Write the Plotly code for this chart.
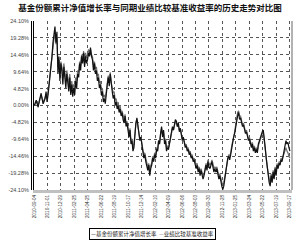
import plotly.graph_objects as go
import pandas as pd

title_text = "基金份额累计净值增长率与同期业绩比较基准收益率的历史走势对比图"
fund_name = "基金份额累计净值增长率"
bench_name = "业绩比较基准收益率"
start_date = "2010-09-04"
end_date = "2013-09-17"

fund = [
    0.0, 0.8, 1.5, 0.5, -0.5, 1.2, 2.5, 3.5, 1.8, 0.5,
    1.2, 2.0, 4.0, 1.0, 3.0, 5.5, 8.0, 11.0, 14.0, 18.0,
    20.0, 22.5, 18.0, 21.0, 9.0, 14.0, 7.0, 12.0, 10.0, 6.0,
    11.0, 8.0, 5.0, 9.0, 7.0, 4.0, 8.0, 3.0, 6.0, 2.5,
    5.0, 3.0, 7.0, 5.0, 9.0, 8.0, 12.0, 10.0, 14.0, 12.0,
    15.0, 11.0, 14.0, 12.0, 13.0, 15.0, 14.0, 16.5, 14.0, 13.0,
    10.0, 12.0, 9.0, 10.0, 7.0, 8.0, 5.0, 6.0, 3.0, 4.0,
    1.0, 2.0, 0.5, 4.0, 6.0, 8.0, 5.5, 9.0, 5.0, 4.0,
    2.0, 3.0, 0.0, 1.0, -1.0, 0.0, -2.0, -1.0, -3.0, -2.0,
    -4.0, -5.0, -3.0, -6.0, -5.0, -8.0, -9.0, -7.0, -11.0, -10.0,
    -13.0, -12.0, -8.0, -5.0, -3.5, -6.0, -8.0, -10.0, -9.0, -12.0,
    -13.0, -15.0, -14.0, -16.0, -17.0, -18.5, -17.0, -20.0, -18.0, -17.0,
    -15.0, -16.0, -14.0, -15.0, -12.5, -13.0, -10.0, -11.0, -8.0, -6.0,
    -9.0, -7.0, -11.0, -10.0, -13.0, -12.0, -12.5, -11.0, -10.0, -8.0,
    -6.0, -7.0, -5.0, -4.0, -4.5, -6.0, -5.0, -7.5, -6.5, -8.0,
    -10.0, -9.0, -11.0, -12.0, -11.5, -13.0, -12.5, -14.0, -13.5, -15.0,
    -14.5, -16.0, -15.5, -17.0, -18.0, -17.0, -19.0, -18.0, -20.0, -18.5,
    -19.5, -21.0, -20.0, -18.0, -17.0, -18.5, -16.0, -17.5, -18.0, -17.0,
    -16.0, -17.5, -19.0, -18.0, -19.0, -18.0, -19.5, -21.0, -20.0, -22.0,
    -23.0, -24.0, -23.0, -21.0, -19.0, -17.0, -15.0, -14.5, -15.5, -14.0,
    -12.0, -11.0, -9.0, -8.0, -6.0, -4.0, -3.0, -2.0, -4.0, -3.5,
    -5.0, -6.0, -5.5, -7.0, -8.0, -7.5, -9.0, -10.0, -9.5, -11.0,
    -12.0, -11.0, -13.0, -12.0, -13.5, -12.5, -13.5, -11.0, -10.0, -9.0,
    -8.0, -7.5, -7.0, -9.0, -12.0, -15.0, -18.0, -21.0, -22.0, -23.0,
    -20.0, -22.0, -19.0, -21.0, -18.0, -20.0, -17.0, -18.0, -16.5, -17.0,
    -15.5, -16.0, -14.5, -13.0, -12.0, -10.0, -11.0, -10.5, -12.0, -13.0,
]

bench = [
    0.0, 0.5, 1.0, 1.2, 0.3, 0.8, 2.0, 2.8, 2.2, 1.0,
    1.5, 2.5, 3.2, 2.0, 3.5, 6.0, 9.0, 12.0, 15.0, 17.0,
    19.0, 20.5, 17.5, 19.5, 11.0, 13.0, 9.0, 12.5, 11.0, 8.0,
    12.0, 9.5, 7.0, 10.0, 8.5, 6.0, 9.0, 5.0, 7.0, 4.5,
    6.0, 5.0, 8.0, 7.0, 10.0, 9.5, 12.5, 11.5, 14.5, 13.0,
    15.5, 13.0, 15.0, 13.5, 14.5, 16.0, 15.0, 16.0, 14.5, 14.0,
    11.5, 12.5, 10.5, 11.0, 8.5, 9.0, 6.5, 7.0, 4.5, 5.0,
    2.5, 3.0, 2.0, 4.5, 6.5, 8.5, 6.5, 9.5, 6.5, 5.0,
    3.5, 4.0, 1.5, 2.0, 0.0, 1.0, -1.0, 0.0, -2.0, -1.5,
    -3.0, -4.0, -2.5, -5.0, -4.5, -7.0, -8.0, -6.5, -10.0, -9.5,
    -12.0, -11.0, -7.5, -5.0, -4.0, -6.0, -7.5, -9.5, -9.0, -11.5,
    -12.5, -14.0, -13.5, -15.0, -16.0, -17.5, -16.5, -18.5, -17.0, -16.5,
    -14.5, -15.0, -13.5, -14.0, -12.0, -12.5, -10.0, -10.5, -8.0, -6.5,
    -8.5, -7.5, -10.0, -9.5, -12.0, -11.5, -12.0, -11.0, -9.5, -8.0,
    -6.5, -7.0, -5.5, -4.5, -5.0, -6.0, -5.5, -7.0, -6.5, -8.0,
    -9.5, -9.0, -10.5, -11.5, -11.0, -12.5, -12.0, -13.5, -13.0, -14.5,
    -14.0, -15.5, -15.0, -16.5, -17.0, -16.5, -18.0, -17.5, -19.0, -18.0,
    -19.0, -20.0, -19.5, -17.5, -16.5, -17.5, -15.5, -16.5, -17.0, -16.5,
    -15.5, -16.5, -18.0, -17.5, -18.0, -17.5, -18.5, -20.0, -19.5, -21.0,
    -22.0, -23.0, -22.0, -20.5, -18.5, -16.5, -15.0, -14.0, -14.5, -13.5,
    -11.5, -10.5, -9.0, -7.5, -5.5, -3.5, -2.0, -1.5, -3.0, -3.0,
    -4.5, -5.5, -5.0, -6.5, -7.5, -7.0, -8.5, -9.5, -9.0, -10.5,
    -11.5, -10.5, -12.5, -11.5, -13.0, -12.0, -13.0, -11.5, -10.5, -9.5,
    -8.5, -8.0, -7.5, -9.5, -12.5, -15.0, -17.5, -20.0, -21.0, -22.0,
    -19.5, -21.0, -18.5, -20.0, -17.5, -19.0, -16.5, -17.5, -16.0, -16.5,
    -15.0, -15.5, -14.5, -13.5, -13.0, -12.0, -13.0, -13.5, -14.5, -15.0,
]

tick_dates = [
    "2010-09-04", "2010-11-01", "2010-12-29", "2011-02-25", "2011-04-25",
    "2011-06-22", "2011-08-19", "2011-10-17", "2011-12-14", "2012-02-10",
    "2012-04-09", "2012-06-06", "2012-08-03", "2012-09-30", "2012-11-28",
    "2013-01-25", "2013-03-24", "2013-05-22", "2013-07-19", "2013-09-17",
]
y_ticks = [24.10, 19.28, 14.46, 9.64, 4.82, 0.0, -4.82, -9.64, -14.46, -19.28, -24.10]

dates = pd.date_range(start=start_date, end=end_date, periods=len(fund))

fig = go.Figure()
fig.add_trace(go.Scatter(x=dates, y=bench, mode="lines", name=bench_name,
                         line=dict(color="#707070", width=1.2)))
fig.add_trace(go.Scatter(x=dates, y=fund, mode="lines", name=fund_name,
                         line=dict(color="#111111", width=1.2)))

ytick_font = dict(family="Liberation Sans, Arial, sans-serif", size=5.5, color="#444")
xtick_font = dict(family="Liberation Sans, Arial, sans-serif", size=4.6, color="#333")

fig.update_layout(
    width=300, height=244,
    margin=dict(l=31, r=8, t=21, b=54),
    paper_bgcolor="white", plot_bgcolor="white",
    showlegend=False,
    title=dict(text="<b>" + title_text + "</b>", x=0.5, xanchor="center",
               y=1 - 8 / 244, yanchor="middle",
               font=dict(family="Noto Sans CJK SC", size=8.5, color="#111")),
    xaxis=dict(
        type="date",
        range=[pd.Timestamp(start_date) - pd.Timedelta(days=1), pd.Timestamp(end_date) + pd.Timedelta(days=9)],
        tickvals=tick_dates, ticktext=tick_dates, tickangle=-90,
        tickfont=xtick_font,
        showgrid=True, gridcolor="#555", griddash="dot", gridwidth=0.8,
        showline=True, linecolor="#c0c0c0", linewidth=3,
        ticks="", zeroline=False,
    ),
    yaxis=dict(
        range=[-24.10, 24.10],
        tickvals=y_ticks, ticktext=["%.2f%%" % v for v in y_ticks],
        tickfont=ytick_font,
        showgrid=True, gridcolor="#555", griddash="dot", gridwidth=0.8,
        showline=True, linecolor="#000", linewidth=1,
        ticks="", zeroline=False, ticklabelstandoff=3,
    ),
    shapes=[
        dict(type="line", xref="paper", yref="paper", xsizemode="pixel", xanchor=0,
             x0=-2.5, x1=-2.5, y0=0, y1=1, line=dict(color="#000", width=1)),
        dict(type="line", xref="paper", yref="paper", x0=1, x1=1, y0=0, y1=1,
             line=dict(color="#999", width=1.5)),
    ],
    annotations=[
        dict(xref="paper", yref="paper", x=0.46, y=-44 / 169, xanchor="center", yanchor="middle",
             text="<span style='color:#111'>—</span>" + fund_name +
                  "  <span style='color:#777'>—</span>" + bench_name,
             showarrow=False, bordercolor="#000", borderwidth=1, borderpad=1,
             font=dict(family="Noto Sans CJK SC", size=5.5, color="#222")),
    ],
)

fig.write_html("out.html")
